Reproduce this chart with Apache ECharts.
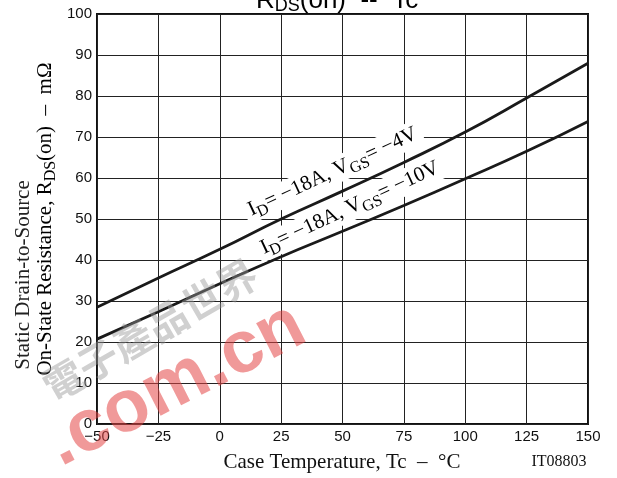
<!DOCTYPE html>
<html><head><meta charset="utf-8">
<script src="https://cdn.jsdelivr.net/npm/echarts@6/dist/echarts.min.js"></script>
<style>html,body{margin:0;padding:0;background:#fff}#c{width:617px;height:478px}</style>
</head><body><div id="c"></div>
<script>
const temps = [-50, -25, 0, 25, 50, 75, 100, 125, 150];
const rdsVgs4 = [28.5, 35.6, 42.6, 50.0, 56.8, 63.8, 71.2, 79.5, 88.0];
const rdsVgs10 = [20.7, 27.4, 34.2, 40.8, 47.0, 53.3, 59.8, 66.5, 73.8];
const xTickLabels = ['−50', '−25', '0', '25', '50', '75', '100', '125', '150'];
const serif = '"Liberation Serif","DejaVu Serif",serif';
const sans = '"Liberation Sans",Arial,sans-serif';

const chart = echarts.init(document.getElementById('c'));
chart.setOption({
  animation: false,
  backgroundColor: '#fff',
  grid: { left: 97, right: 29, top: 14, bottom: 54, show: true, borderColor: '#111', borderWidth: 2 },
  xAxis: {
    type: 'value', min: -50, max: 150, interval: 25,
    axisLine: { show: false }, axisTick: { show: false },
    splitLine: { lineStyle: { color: '#222', width: 1 } },
    axisLabel: { color: '#111', fontFamily: sans, fontSize: 15, margin: 5,
      formatter: v => xTickLabels[temps.indexOf(v)] ?? String(v) }
  },
  yAxis: {
    type: 'value', min: 0, max: 100, interval: 10,
    axisLine: { show: false }, axisTick: { show: false },
    splitLine: { lineStyle: { color: '#222', width: 1 } },
    axisLabel: { color: '#111', fontFamily: sans, fontSize: 15, margin: 5 }
  },
  series: [
    { type: 'line', smooth: true, symbol: 'none', data: temps.map((t, i) => [t, rdsVgs4[i]]),
      lineStyle: { color: '#1a1a1a', width: 2.8 }, z: 3 },
    { type: 'line', smooth: true, symbol: 'none', data: temps.map((t, i) => [t, rdsVgs10[i]]),
      lineStyle: { color: '#1a1a1a', width: 2.8 }, z: 3 }
  ]
});

const p1 = chart.convertToPixel({ gridIndex: 0 }, [46, 61.5]);
const p2 = chart.convertToPixel({ gridIndex: 0 }, [53, 52.7]);
const rot = 25 * Math.PI / 180;
const richSub = {
  n: { fontFamily: serif, fontSize: 21, color: '#111', lineHeight: 26 },
  s: { fontFamily: serif, fontSize: 16, color: '#111', lineHeight: 26, padding: [12, 0, 0, 0] }
};
function curveLabel(p, vgs) {
  return {
    type: 'text', x: p[0], y: p[1], rotation: rot, z: 10,
    style: {
      text: '{n|I}{s|D}{n|= −18A, V}{s|GS}{n|= ' + vgs + '}',
      rich: richSub, align: 'center', verticalAlign: 'middle',
      backgroundColor: '#fff', padding: [0, 5, 0, 5]
    }
  };
}

chart.setOption({
  graphic: [
    curveLabel(p1, '−4V'),
    curveLabel(p2, '−10V'),
    { type: 'text', x: 256, y: -14, z: 10,
      style: { text: '{a|R}{b|DS}{a|(on)  --  Tc}', rich: {
        a: { fontFamily: sans, fontSize: 26, color: '#111', lineHeight: 30 },
        b: { fontFamily: sans, fontSize: 18, color: '#111', lineHeight: 30, padding: [11, 0, 0, 0] } },
        align: 'left', verticalAlign: 'top' } },
    { type: 'text', x: 23, y: 275, rotation: Math.PI / 2, z: 10,
      style: { text: 'Static Drain-to-Source', fontFamily: serif, fontSize: 21, fill: '#222',
        align: 'center', verticalAlign: 'middle' } },
    { type: 'text', x: 45, y: 219, rotation: Math.PI / 2, z: 10,
      style: { text: '{b|On-State Resistance, R}{s|DS}{b|(on)  –  mΩ}', rich: {
        b: { fontFamily: serif, fontSize: 21, color: '#222', lineHeight: 26 },
        s: { fontFamily: serif, fontSize: 16, color: '#222', lineHeight: 26, padding: [11, 0, 0, 0] } },
        align: 'center', verticalAlign: 'middle' } },
    { type: 'text', x: 342, y: 462, z: 10,
      style: { text: 'Case Temperature, Tc  –  °C', fontFamily: serif, fontSize: 21, fill: '#111',
        align: 'center', verticalAlign: 'middle' } },
    { type: 'text', x: 559, y: 462, z: 10,
      style: { text: 'IT08803', fontFamily: serif, fontSize: 16, fill: '#111',
        align: 'center', verticalAlign: 'middle' } },
    { type: 'text', x: 150, y: 330, rotation: 30 * Math.PI / 180, z: 19,
      style: { text: '電子產品世界', fontFamily: '"Noto Sans CJK TC",sans-serif', fontWeight: 'bold', fontSize: 40,
        fill: 'rgba(150,150,150,0.45)', align: 'center', verticalAlign: 'middle' } },
    { type: 'text', x: 176, y: 385, rotation: 27 * Math.PI / 180, z: 20,
      style: { text: '.com.cn', fontFamily: sans, fontWeight: 'bold', fontSize: 74,
        fill: 'rgba(228,70,70,0.55)', align: 'center', verticalAlign: 'middle' } }
  ]
});
</script>
</body></html>
